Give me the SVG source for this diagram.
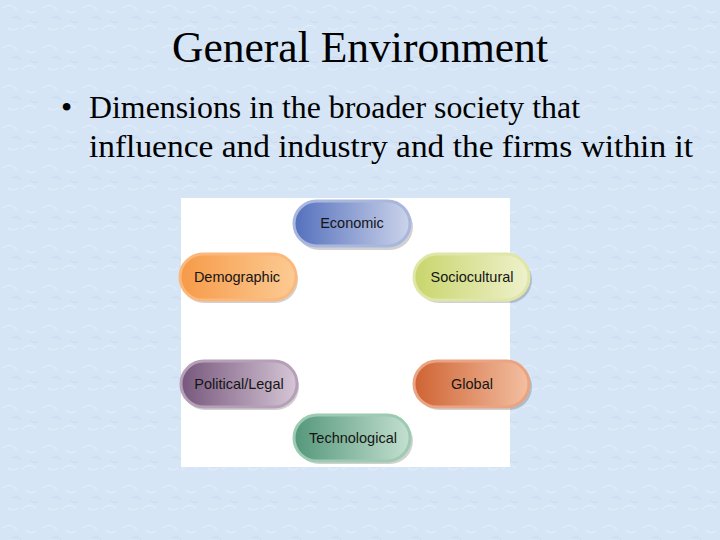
<svg xmlns="http://www.w3.org/2000/svg" width="720" height="540" viewBox="0 0 720 540">
<defs>
<style>
.t{font-family:"Liberation Serif","Times New Roman",serif;fill:#000}
.lbl{font-family:"Liberation Sans",Arial,sans-serif;font-size:14.5px;fill:#151515;text-anchor:middle}
.sh{fill:#000;opacity:0.18}
</style>
<linearGradient id="gEco" x1="0" x2="1"><stop offset="0" stop-color="#5470bd"/><stop offset="1" stop-color="#ccd4ea"/></linearGradient>
<linearGradient id="gDem" x1="0" x2="1"><stop offset="0" stop-color="#f69a48"/><stop offset="1" stop-color="#fccb94"/></linearGradient>
<linearGradient id="gSoc" x1="0" x2="1"><stop offset="0" stop-color="#c9d56c"/><stop offset="1" stop-color="#eef1cc"/></linearGradient>
<linearGradient id="gPol" x1="0" x2="1"><stop offset="0" stop-color="#76577c"/><stop offset="1" stop-color="#d6c6d6"/></linearGradient>
<linearGradient id="gGlo" x1="0" x2="1"><stop offset="0" stop-color="#cf6333"/><stop offset="1" stop-color="#f3c0a2"/></linearGradient>
<linearGradient id="gTec" x1="0" x2="1"><stop offset="0" stop-color="#54977a"/><stop offset="1" stop-color="#c4e0d0"/></linearGradient>
<pattern id="tex" width="40" height="40" patternUnits="userSpaceOnUse">
<rect width="40" height="40" fill="#d5e5f5"/>
<path d="M3 8 q8 -6 14 2 M22 30 q6 -8 14 -2 M8 28 q4 4 10 0 M26 10 q5 5 10 1" stroke="#e2eef9" stroke-width="1.2" fill="none"/>
<path d="M12 18 q5 -3 9 2 M30 20 q3 4 8 2" stroke="#c9daee" stroke-width="1" fill="none"/>
</pattern>
</defs>
<rect width="720" height="540" fill="url(#tex)"/>
<text class="t" x="172" y="62" font-size="44" textLength="376" lengthAdjust="spacingAndGlyphs">General Environment</text>
<text class="t" x="61" y="118" font-size="32">•</text>
<text class="t" x="89" y="118" font-size="32" textLength="491" lengthAdjust="spacingAndGlyphs">Dimensions in the broader society that</text>
<text class="t" x="89" y="157" font-size="32" textLength="604" lengthAdjust="spacingAndGlyphs">influence and industry and the firms within it</text>
<rect x="181" y="198" width="329" height="269" fill="#ffffff"/>
<g id="economic">
<rect class="sh" x="296" y="204" width="117" height="46" rx="23"/>
<rect x="294" y="201" width="116" height="45" rx="22.5" fill="url(#gEco)" stroke="#a9b7df" stroke-width="3"/>
<text class="lbl" x="352" y="228">Economic</text>
</g>
<g id="demographic">
<rect class="sh" x="181" y="257" width="117" height="46" rx="23"/>
<rect x="180" y="254" width="116" height="46" rx="23" fill="url(#gDem)" stroke="#fbb87a" stroke-width="3"/>
<text class="lbl" x="237" y="282">Demographic</text>
</g>
<g id="sociocultural">
<rect class="sh" x="416" y="257" width="116" height="46" rx="23"/>
<rect x="414" y="254" width="115" height="46" rx="23" fill="url(#gSoc)" stroke="#dfe6a8" stroke-width="3"/>
<text class="lbl" x="472" y="282">Sociocultural</text>
</g>
<g id="political-legal">
<rect class="sh" x="182" y="364" width="117" height="46" rx="23"/>
<rect x="181" y="361" width="116" height="46" rx="23" fill="url(#gPol)" stroke="#b6a0b8" stroke-width="3"/>
<text class="lbl" x="239" y="389">Political/Legal</text>
</g>
<g id="global">
<rect class="sh" x="416" y="364" width="116" height="46" rx="23"/>
<rect x="414" y="361" width="115" height="46" rx="23" fill="url(#gGlo)" stroke="#eaa482" stroke-width="3"/>
<text class="lbl" x="472" y="389">Global</text>
</g>
<g id="technological">
<rect class="sh" x="296" y="418" width="117" height="46" rx="23"/>
<rect x="294" y="415" width="116" height="46" rx="23" fill="url(#gTec)" stroke="#9ccbb2" stroke-width="3"/>
<text class="lbl" x="353" y="443">Technological</text>
</g>
<g id="connectors"></g>
</svg>
